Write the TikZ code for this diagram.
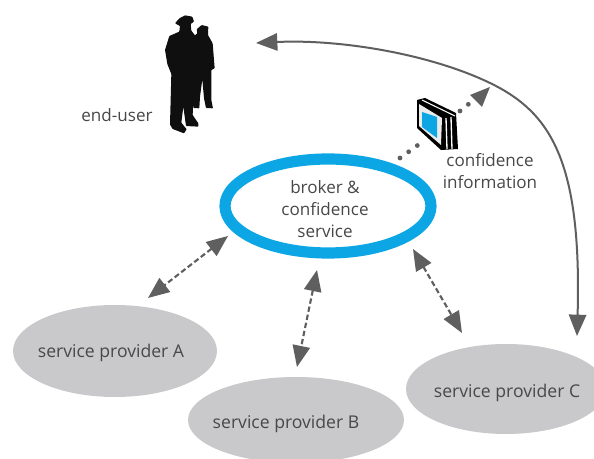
\documentclass[tikz,border=0pt]{standalone}
\usepackage{fontspec}
\setmainfont{Open Sans}
\usetikzlibrary{arrows.meta,calc}
\definecolor{txt}{HTML}{484848}
\definecolor{provider}{HTML}{C9C9CB}
\definecolor{ringblue}{HTML}{0CA6E4}
\definecolor{conn}{HTML}{5F5F5F}
\tikzset{
 x=0.75pt,y=-0.75pt,
 label text/.style={text=txt,font=\fontsize{12.8}{16.5}\selectfont,align=center,inner sep=0pt},
 provider text/.style={text=txt,font=\fontsize{13.2}{16.5}\selectfont,align=center,inner sep=0pt},
 provider blob/.style={fill=provider,draw=none},
 link/.style={draw=conn,line width=1.6pt,dash pattern=on 4pt off 2.2pt,{Triangle[length=16pt,width=13pt]}-{Triangle[length=16pt,width=13pt]}},
 dotlink/.style={draw=conn,line width=3.6pt,line cap=round,dash pattern=on 0pt off 8pt},
 arc link/.style={draw=conn,line width=1.5pt,{Triangle[length=16pt,width=13pt]}-{Triangle[length=16pt,width=13pt]}},
}
\begin{document}
\begin{tikzpicture}
\useasboundingbox (0,0) rectangle (594,459);
\fill[white] (0,0) rectangle (594,459);
% providers
\path[provider blob] (115,351) ellipse [x radius=102,y radius=46];
\path[provider blob] (296,420) ellipse [x radius=108,y radius=43];
\path[provider blob] (506,389) ellipse [x radius=100,y radius=45];
\node[provider text] (provA) at (111,353) {service provider A};
\node[provider text] (provB) at (286,424) {service provider B};
\node[provider text] (provC) at (507,393) {service provider C};
% broker ring
\draw[ringblue,line width=8.4pt] (328,206) ellipse [x radius=103,y radius=47];
\node[label text] (broker) at (325,209) {broker \&\\confidence\\service};
\node[label text] (enduser) at (117,115) {end-user};
\node[label text] (confinfo) at (490,171) {confidence\\information};
% silhouettes
\begin{scope}[shift={(140,0)},x=0.25pt,y=-0.25pt,rounded corners=0.5pt]
\fill[black!94] (170,88) -- (185,75) -- (205,80) -- (204,105) -- (218,130) -- (224,205) -- (214,210) -- (214,300) -- (219,325) -- (198,324) -- (192,295) -- (187,238) -- (180,290) -- (178,325) -- (160,324) -- (156,240) -- (160,110) -- (172,100) -- cycle;
\fill[black!94] (118,55) -- (135,46) -- (157,50) -- (162,65) -- (152,72) -- (154,92) -- (168,110) -- (172,240) -- (162,250) -- (158,345) -- (175,370) -- (175,380) -- (138,378) -- (130,320) -- (124,368) -- (140,388) -- (132,400) -- (98,387) -- (90,374) -- (94,222) -- (82,192) -- (75,150) -- (88,108) -- (118,95) -- (120,78) -- (105,70) -- cycle;
\end{scope}
% monitor
\fill[black] (417,100) -- (425,98) -- (456,113) -- (458,149) -- (441,150) -- (417,128) -- cycle;
\draw[white,line width=0.8pt] (422,100) -- (455,116);
\draw[white,line width=1pt] (446,118) -- (447,149);
\draw[white,line width=1pt] (451,117) -- (452,149);
\fill[white!92!black] (419,104) -- (442,118) -- (441,145) -- (419,126) -- cycle;
\fill[ringblue] (422,112) -- (437,117) -- (437,138) -- (422,127) -- cycle;
% connectors
\coordinate (a1) at (228,236); \coordinate (a2) at (148,298);
\coordinate (b1) at (317,270); \coordinate (b2) at (297,367);
\coordinate (c1) at (413,249); \coordinate (c2) at (462,333);
\coordinate (m1) at (400,158); \coordinate (m2) at (425,140);
\coordinate (n1) at (460,111); \coordinate (n2) at (470,103); \coordinate (n3) at (490,87);
\coordinate (u) at (256,43); \coordinate (w) at (490,83); \coordinate (v) at (577,336);
\draw[link] (a1) -- (a2);
\draw[link] (b1) -- (b2);
\draw[link] (c1) -- (c2);
\draw[dotlink] (m1) -- (m2);
\draw[dotlink] (n1) -- (n2);
\fill[conn] (n3) -- (470,95) -- (482,107) -- cycle;
\draw[arc link] (u) .. controls (340,39) and (430,54) .. (w) .. controls (550,112) and (582,160) .. (v);
\end{tikzpicture}
\end{document}
